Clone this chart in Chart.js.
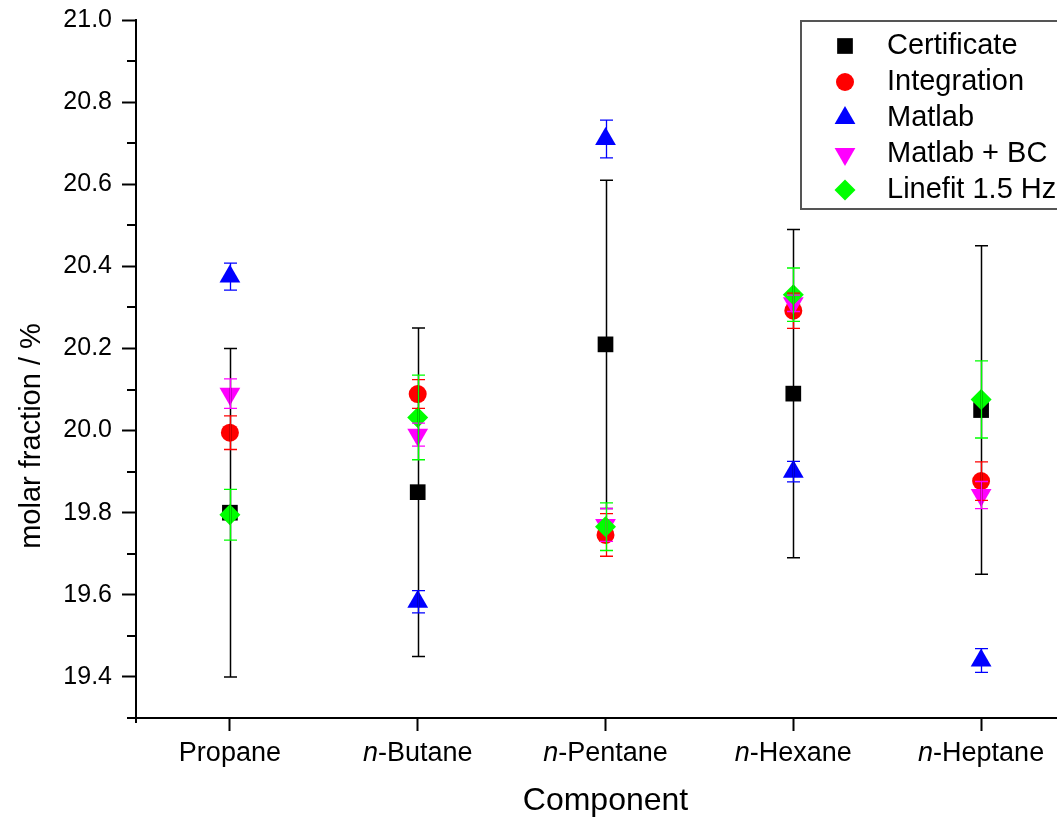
<!DOCTYPE html>
<html>
<head>
<meta charset="utf-8">
<title>molar fraction by component</title>
<script src="https://cdn.jsdelivr.net/npm/chart.js"></script>
<style>
  html, body { margin: 0; padding: 0; background: #fff; overflow: hidden; }
  #wrap { width: 1087px; height: 817px; }
</style>
</head>
<body>
<div id="wrap"><canvas id="chart" width="1087" height="817"></canvas></div>
<script>
const categories = ['Propane', 'n-Butane', 'n-Pentane', 'n-Hexane', 'n-Heptane'];
const yTicks = [19.4, 19.6, 19.8, 20.0, 20.2, 20.4, 20.6, 20.8, 21.0];
const yMinorTicks = [19.3, 19.5, 19.7, 19.9, 20.1, 20.3, 20.5, 20.7, 20.9];

const certificate    = [19.80, 19.85, 20.21, 20.09, 20.05];
const certificateErr = [0.40, 0.40, 0.40, 0.40, 0.40];
const integration    = [19.995, 20.089, 19.746, 20.292, 19.877];
const integrationErr = [0.041, 0.035, 0.052, 0.043, 0.047];
const matlab         = [20.375, 19.583, 20.710, 19.900, 19.440];
const matlabErr      = [0.033, 0.027, 0.046, 0.025, 0.029];
const matlabBC       = [20.090, 19.990, 19.770, 20.310, 19.843];
const matlabBCErr    = [0.036, 0.028, 0.040, 0.020, 0.033];
const linefit        = [19.795, 20.032, 19.766, 20.331, 20.076];
const linefitErr     = [0.062, 0.103, 0.058, 0.065, 0.094];

const FONT = '"Liberation Sans", Arial, sans-serif';

function series(label, values, errors, color, style, radius, rotation, order) {
  return {
    label,
    data: values.map((v, i) => ({ x: i + 1, y: v })),
    errorBars: errors,
    backgroundColor: color,
    borderColor: color,
    borderWidth: 0,
    pointStyle: style,
    pointRadius: radius,
    pointRotation: rotation,
    showLine: false,
    order
  };
}

const datasets = [
  series('Certificate', certificate, certificateErr, '#000000', 'rect', 11.1, 0, 5),
  series('Integration', integration, integrationErr, '#ff0000', 'circle', 9, 0, 4),
  series('Matlab', matlab, matlabErr, '#0000ff', 'triangle', 12, 0, 3),
  series('Matlab + BC', matlabBC, matlabBCErr, '#ff00ff', 'triangle', 12, 180, 2),
  series('Linefit 1.5 Hz', linefit, linefitErr, '#00ff00', 'rectRot', 10.5, 0, 1)
];

// error bars, minor ticks, category labels, y title and the boxed legend
const overlay = {
  id: 'overlay',
  afterDatasetsDraw(chart) {
    const { ctx, scales: { x, y } } = chart;
    chart.data.datasets.forEach(ds => {
      ctx.save();
      ctx.strokeStyle = ds.borderColor;
      ctx.lineWidth = ds.label === 'Certificate' ? 1.5 : 1.3;
      ds.data.forEach((p, i) => {
        const px = Math.round(x.getPixelForValue(p.x)) + 0.5;
        const top = y.getPixelForValue(p.y + ds.errorBars[i]);
        const bot = y.getPixelForValue(p.y - ds.errorBars[i]);
        ctx.beginPath();
        ctx.moveTo(px, top); ctx.lineTo(px, bot);
        ctx.moveTo(px - 6.5, top); ctx.lineTo(px + 6.5, top);
        ctx.moveTo(px - 6.5, bot); ctx.lineTo(px + 6.5, bot);
        ctx.stroke();
      });
      ctx.restore();
    });
  },
  afterDraw(chart) {
    const { ctx, chartArea, scales: { x, y } } = chart;
    ctx.save();
    ctx.strokeStyle = '#000';
    ctx.lineWidth = 2;
    ctx.beginPath();
    yMinorTicks.forEach(v => {
      const py = Math.round(y.getPixelForValue(v));
      ctx.moveTo(chartArea.left, py); ctx.lineTo(chartArea.left - 9, py);
    });
    const x0 = Math.round(x.getPixelForValue(0.5));
    ctx.moveTo(x0, chartArea.bottom); ctx.lineTo(x0, chartArea.bottom + 5);
    ctx.stroke();

    // category labels, with the italic n- prefix
    ctx.fillStyle = '#000';
    ctx.textBaseline = 'alphabetic';
    ctx.textAlign = 'left';
    categories.forEach((c, i) => {
      const px = x.getPixelForValue(i + 1);
      const italic = c.startsWith('n-') ? 'n' : '';
      const rest = c.slice(italic.length);
      ctx.font = 'italic 27px ' + FONT;
      const w1 = ctx.measureText(italic).width;
      ctx.font = '27px ' + FONT;
      const w2 = ctx.measureText(rest).width;
      const start = px - (w1 + w2) / 2;
      ctx.font = 'italic 27px ' + FONT;
      ctx.fillText(italic, start, 761);
      ctx.font = '27px ' + FONT;
      ctx.fillText(rest, start + w1, 761);
    });

    // y axis title
    ctx.save();
    ctx.translate(32, 436);
    ctx.rotate(-Math.PI / 2);
    ctx.textAlign = 'center';
    ctx.textBaseline = 'middle';
    ctx.font = '29px ' + FONT;
    ctx.fillText('molar fraction / %', 0, 0);
    ctx.restore();

    // legend
    ctx.fillStyle = '#fff';
    ctx.fillRect(801, 21, 400, 188);
    ctx.strokeStyle = '#555';
    ctx.lineWidth = 2;
    ctx.strokeRect(801, 21, 400, 188);
    chart.data.datasets.forEach((ds, i) => {
      const ly = 46 + i * 36;
      ctx.fillStyle = ds.backgroundColor;
      Chart.helpers.drawPoint(ctx, {
        pointStyle: ds.pointStyle,
        radius: ds.pointRadius,
        rotation: ds.pointRotation,
        borderWidth: 0
      }, 845, ly);
      ctx.fillStyle = '#000';
      ctx.font = '29px ' + FONT;
      ctx.textAlign = 'left';
      ctx.textBaseline = 'middle';
      ctx.fillText(ds.label, 887, ly);
    });
    ctx.restore();
  }
};

new Chart(document.getElementById('chart'), {
  type: 'scatter',
  data: { datasets },
  options: {
    responsive: false,
    animation: false,
    events: [],
    layout: { padding: { top: 20, left: 0, right: 0, bottom: 0 } },
    plugins: { legend: { display: false }, tooltip: { enabled: false } },
    scales: {
      x: {
        type: 'linear',
        min: 0.5,
        max: 5.5,
        afterBuildTicks: scale => { scale.ticks = categories.map((c, i) => ({ value: i + 1 })); },
        afterFit: scale => { scale.height = 99; },
        ticks: { display: false },
        grid: { drawOnChartArea: false, drawTicks: true, tickLength: 13, tickWidth: 2, tickColor: '#000' },
        border: { display: true, color: '#000', width: 2 },
        title: {
          display: true,
          text: 'Component',
          color: '#000',
          font: { family: FONT, size: 32, lineHeight: 1 },
          padding: { top: 0, bottom: 0 }
        }
      },
      y: {
        min: 19.3,
        max: 21.0,
        afterBuildTicks: scale => { scale.ticks = yTicks.map(v => ({ value: v })); },
        afterFit: scale => {
          scale.width = 136;
          scale.paddingTop = 0;
          scale.paddingBottom = 0;
        },
        ticks: {
          color: '#000',
          padding: 10,
          font: { family: FONT, size: 25 },
          callback: v => Number(v).toFixed(1)
        },
        grid: { drawOnChartArea: false, drawTicks: true, tickLength: 14, tickWidth: 2, tickColor: '#000' },
        border: { display: true, color: '#000', width: 2 }
      }
    }
  },
  plugins: [overlay]
});
</script>
</body>
</html>
